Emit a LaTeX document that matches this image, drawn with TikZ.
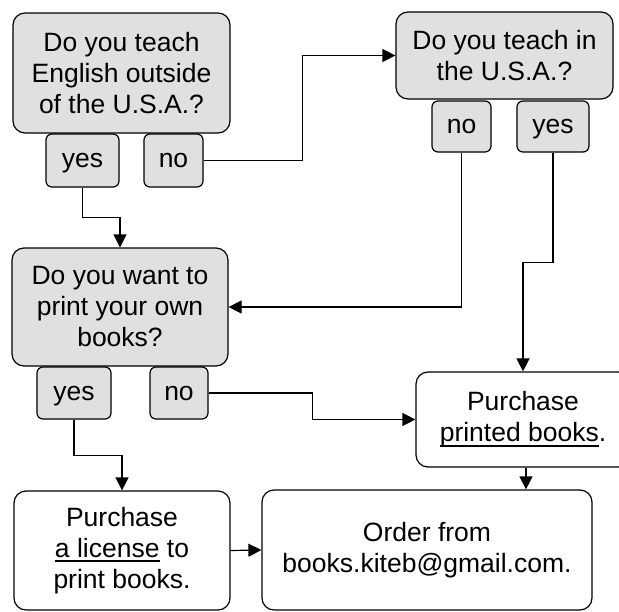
\documentclass[tikz,border=0pt]{standalone}
\usepackage{fontspec}
\setmainfont{Liberation Sans}
\usetikzlibrary{arrows.meta}
\definecolor{boxgray}{HTML}{E0E0E0}
\newcommand{\undl}[1]{\setbox0\hbox{#1}\rlap{\copy0}\raisebox{-5pt}{\rule{\wd0}{2pt}}}

\begin{document}
\begin{tikzpicture}[x=1pt,y={(0pt,-1pt)},
  every node/.style={inner sep=0pt,align=center,font=\fontsize{26.5}{31}\selectfont},
  ask/.style={draw,fill=boxgray,rounded corners=12pt,line width=1.2pt},
  answer/.style={draw,fill=boxgray,rounded corners=6pt,line width=1.2pt,text height=14pt,text depth=0pt},
  result/.style={draw,fill=white,rounded corners=12pt,line width=1.2pt},
  arr/.style={line width=1.2pt,-{Triangle[length=13pt,width=13pt]}},
  link/.style={line width=1.2pt}]
\useasboundingbox (0,0) rectangle (619,611);
\clip (0,0) rectangle (619,611);
% questions
\node [ask,minimum width=217,minimum height=120] (q1) at (121.5,73) {Do you teach\\English outside\\of the U.S.A.?};
\node [ask,minimum width=217,minimum height=87] (q2) at (504.5,55.5) {Do you teach in\\the U.S.A.?};
\node [ask,minimum width=216,minimum height=118] (q3) at (120,307) {Do you want to\\print your own\\books?};
% answers
\node [answer,minimum width=73,minimum height=53] (yes1) at (82.5,160.5) {yes};
\node [answer,minimum width=59,minimum height=53] (no1) at (173.5,160.5) {no};
\node [answer,minimum width=59,minimum height=51] (no2) at (461.5,126.5) {no};
\node [answer,minimum width=72,minimum height=51] (yes2) at (553,126.5) {yes};
\node [answer,minimum width=74,minimum height=52] (yes3) at (74,393) {yes};
\node [answer,minimum width=58,minimum height=52] (no3) at (179,393) {no};
% results
\node [result,minimum width=214,minimum height=95] (buy) at (523,419.5) {Purchase\\\undl{printed books}.};
\node [result,minimum width=216,minimum height=119] (license) at (122,550.5) {Purchase\\\undl{a license} to\\print books.};
\node [result,minimum width=330,minimum height=120] (order) at (427,550) {Order from\\books.kiteb@gmail.com.};
% connectors
\draw [arr] (no1.east) -- ++(99,0) |- (q2.west);
\draw [arr] (yes1.south) -- ++(0,30) -| (q3.north);
\draw [arr] (no2.south) |- (q3.east);
\draw [arr] (yes2.south) -- ++(0,110) -| (buy.north);
\draw [arr] (no3.east) -- ++(104,0) |- (buy.west);
\draw [arr] (yes3.south) -- ++(0,36) -| (license.north);
\draw [arr] (license.east) -- (order.west);
\draw [arr] ([xshift=3pt]buy.south) -- ([xshift=3pt]buy.south |- order.north);
\end{tikzpicture}
\end{document}
